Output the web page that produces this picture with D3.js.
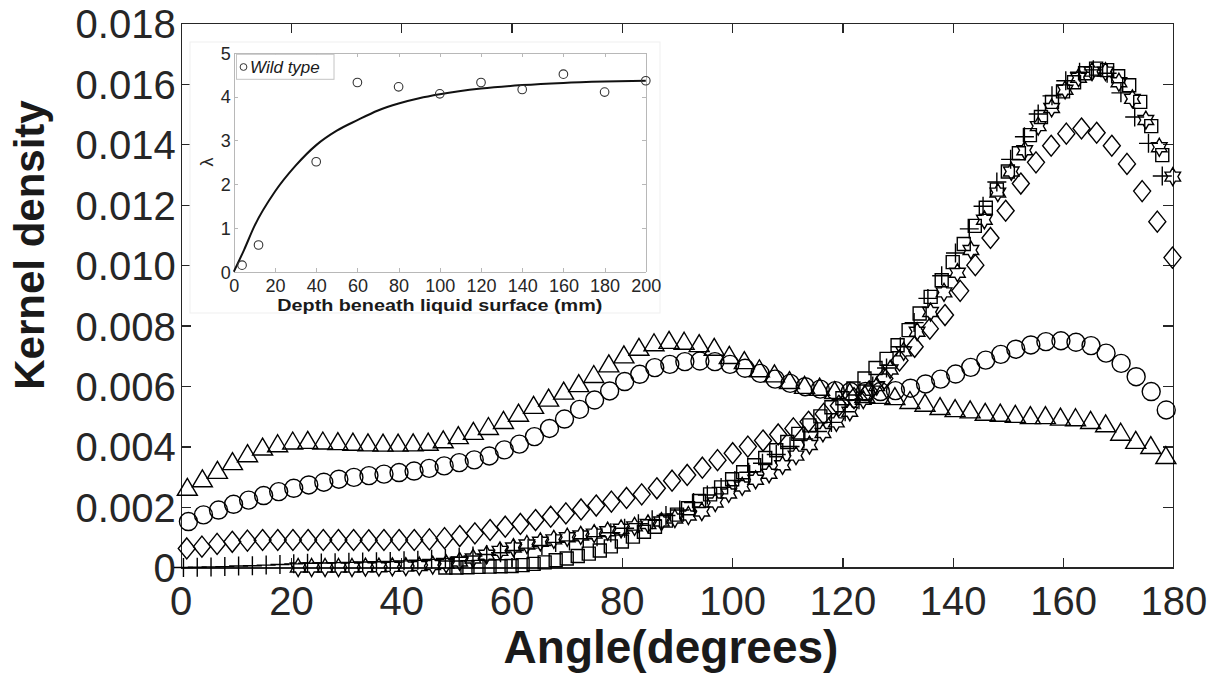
<!DOCTYPE html>
<meta charset="utf-8">
<script src="https://cdn.jsdelivr.net/npm/d3@7"></script>
<style type="text/css">
body {
  margin: 0;
  background: #fff;
}
text {
  font-family: "Liberation Sans", Arial, Helvetica, sans-serif;
}
.axis path,
.axis line {
  fill: none;
  stroke: #262626;
  stroke-width: 1.3;
  shape-rendering: crispEdges;
}
.inset .axis path,
.inset .axis line {
  stroke: #b8b8b8;
  stroke-width: 1;
}
.mark {
  fill: none;
  stroke: #000;
  stroke-width: 1.4;
}
</style>
<body>
<script>

// main chart: kernel density (values in units of 0.001) vs angle
// each series is sampled on its own even angle grid: start + i*step
var xTicks = [0, 20, 40, 60, 80, 100, 120, 140, 160, 180];
var yTicks = [0, 2, 4, 6, 8, 10, 12, 14, 16, 18];

var circleStart = 1.4, circleStep = 2.728;
var circleVals = [1.52,1.74,1.90,2.09,2.23,2.38,2.51,2.62,2.73,2.82,
  2.92,2.98,3.04,3.09,3.14,3.19,3.28,3.36,3.47,3.56,
  3.69,3.89,4.08,4.33,4.60,4.91,5.23,5.54,5.84,6.15,
  6.39,6.61,6.72,6.81,6.83,6.81,6.72,6.59,6.42,6.23,
  6.09,5.98,5.90,5.85,5.82,5.82,5.82,5.85,5.93,6.07,
  6.23,6.40,6.62,6.86,7.05,7.22,7.36,7.47,7.50,7.45,
  7.34,7.09,6.75,6.31,5.82,5.21];

var triangleStart = 1.2, triangleStep = 2.73;
var triangleVals = [2.67,2.95,3.23,3.52,3.78,4.00,4.11,4.20,4.22,4.20,
  4.18,4.16,4.14,4.13,4.13,4.14,4.16,4.24,4.38,4.52,
  4.68,4.88,5.12,5.38,5.62,5.85,6.10,6.40,6.75,7.05,
  7.30,7.45,7.53,7.50,7.42,7.30,7.03,6.86,6.59,6.42,
  6.20,6.04,5.98,5.87,5.82,5.74,5.71,5.67,5.54,5.45,
  5.34,5.27,5.23,5.15,5.12,5.08,5.04,5.04,4.99,4.97,
  4.88,4.77,4.49,4.22,4.05,3.72];

var diamondStart = 1.1, diamondStep = 2.75;
var diamondVals = [0.63,0.69,0.78,0.85,0.89,0.91,0.91,0.91,0.91,0.91,
  0.91,0.91,0.90,0.91,0.91,0.91,0.93,0.97,1.04,1.13,
  1.24,1.35,1.44,1.57,1.68,1.79,1.92,2.05,2.18,2.30,
  2.42,2.62,2.87,3.06,3.30,3.55,3.78,4.00,4.20,4.40,
  4.60,4.82,5.08,5.35,5.60,5.83,6.25,6.85,7.30,7.90,
  8.35,9.15,10.0,10.9,11.8,12.7,13.4,13.95,14.35,14.52,
  14.38,13.95,13.35,12.45,11.44,10.25];

var plusStart = 0.5, plusStep = 2.5;
var plusVals = [0.00,0.01,0.02,0.03,0.05,0.06,0.08,0.10,0.12,0.14,
  0.15,0.16,0.17,0.18,0.19,0.20,0.22,0.24,0.27,0.30,
  0.34,0.38,0.43,0.49,0.56,0.64,0.73,0.83,0.88,0.95,
  1.02,1.15,1.30,1.45,1.58,1.72,1.90,2.15,2.40,2.65,
  2.88,3.15,3.45,3.74,4.00,4.25,4.50,4.80,5.15,5.55,
  6.00,6.60,7.30,8.10,8.90,9.65,10.40,11.20,11.95,12.75,
  13.50,14.25,15.00,15.60,16.10,16.38,16.46,16.35,15.70,14.90,
  14.03,12.95];

var squareStart = 48, squareStep = 2.0;
var squareVals = [0.00,0.00,0.01,0.02,0.03,0.04,0.05,0.08,0.12,0.17,
  0.24,0.30,0.38,0.46,0.56,0.70,0.86,1.02,1.18,1.35,
  1.55,1.75,1.96,2.20,2.42,2.65,2.92,3.15,3.38,3.62,
  3.88,4.15,4.42,4.70,5.00,5.30,5.60,5.92,6.25,6.60,
  6.90,7.35,7.85,8.40,8.95,9.50,10.10,10.70,11.30,11.90,
  12.50,13.10,13.70,14.30,14.90,15.40,15.75,16.05,16.35,16.50,
  16.45,16.25,15.95,15.40,14.60,13.64];

var starStart = 21.3, starStep = 2.44;
var starVals = [0.00,0.00,0.00,0.00,0.00,0.01,0.01,0.02,0.03,0.05,
  0.08,0.12,0.20,0.30,0.42,0.55,0.66,0.76,0.85,0.93,
  1.00,1.06,1.12,1.20,1.28,1.36,1.44,1.52,1.62,1.72,
  1.85,2.15,2.45,2.68,2.90,3.10,3.38,3.70,4.05,4.45,
  4.80,5.15,5.55,6.00,6.55,7.15,7.80,8.45,9.10,9.75,
  10.50,11.50,12.40,13.10,13.80,14.60,15.20,15.80,16.20,16.40,
  16.40,16.05,15.50,14.80,13.90,12.93];

// inset: lambda vs depth
var insetXTicks = [0, 20, 40, 60, 80, 100, 120, 140, 160, 180, 200];
var insetYTicks = [0, 1, 2, 3, 4, 5];
var depthPts = [4, 12, 40, 60, 80, 100, 120, 140, 160, 180, 200];
var lambdaPts = [0.15, 0.61, 2.51, 4.32, 4.22, 4.06, 4.32, 4.16, 4.51, 4.10, 4.36];
var fitDepth = [0, 5, 10, 20, 30, 40, 50, 60, 70, 80, 90, 100, 120, 140, 160, 180, 200];
var fitLambda = [0, 0.50, 1.04, 1.83, 2.42, 2.89, 3.22, 3.46, 3.68, 3.84, 3.96, 4.05, 4.18, 4.26, 4.31, 4.34, 4.36];

var margin = {top: 23.3, right: 42.7, bottom: 112.5, left: 180.7}
  , width = 1216 - margin.left - margin.right
  , height = 680 - margin.top - margin.bottom;

var svg = d3.select("body").append("svg")
    .attr("width", 1216)
    .attr("height", 680);

var g = svg.append("g")
    .attr("transform", "translate(" + margin.left + "," + margin.top + ")");

var x = d3.scaleLinear().domain([0, 180]).range([0, width]);
var y = d3.scaleLinear().domain([0, 18]).range([height, 0]);

// axes, MATLAB style box with inward ticks
var fmtY = function(d) { return d === 0 ? "0" : (d / 1000).toFixed(3); };

var xAxis = g.append("g").attr("class", "x axis")
    .attr("transform", "translate(0," + height + ")")
    .call(d3.axisBottom(x).tickValues(xTicks).tickSizeInner(-10).tickSizeOuter(0));
xAxis.selectAll("text")
    .attr("y", 47.5).attr("dy", null)
    .style("font-size", "40px").style("fill", "#262626");

g.append("g").attr("class", "axis")
    .call(d3.axisTop(x).tickValues(xTicks).tickSizeInner(-10).tickSizeOuter(0).tickFormat(""));

var yAxis = g.append("g").attr("class", "y axis")
    .call(d3.axisLeft(y).tickValues(yTicks).tickSizeInner(-10).tickSizeOuter(0).tickPadding(5).tickFormat(fmtY));
yAxis.selectAll("text")
    .attr("dy", "0.36em")
    .style("font-size", "40px").style("fill", "#262626");

g.append("g").attr("class", "axis")
    .attr("transform", "translate(" + width + ",0)")
    .call(d3.axisRight(y).tickValues(yTicks).tickSizeInner(-10).tickSizeOuter(0).tickFormat(""));

// axis titles
svg.append("text")
    .attr("x", margin.left + width / 2 - 6)
    .attr("y", 663)
    .style("text-anchor", "middle")
    .style("font-weight", "bold")
    .style("font-size", "46px")
    .style("fill", "#1a1a1a")
    .text("Angle(degrees)");

svg.append("text")
    .attr("transform", "translate(44,245) rotate(-90)")
    .style("text-anchor", "middle")
    .style("font-weight", "bold")
    .style("font-size", "42px")
    .style("fill", "#1a1a1a")
    .text("Kernel density");

// marker shapes
function hexagram(R) {
  var r = R / Math.sqrt(3), p = [];
  for (var k = 0; k < 12; k++) {
    var a = (-90 + k * 30) * Math.PI / 180, rr = k % 2 ? r : R;
    p.push([rr * Math.cos(a), rr * Math.sin(a)]);
  }
  return "M" + p.map(function(q) { return q[0].toFixed(2) + "," + q[1].toFixed(2); }).join("L") + "Z";
}
var shapes = {
  circle: "M9,0A9,9 0 1,1 -9,0A9,9 0 1,1 9,0Z",
  triangle: "M0,-8.5L10,8.5L-10,8.5Z",
  diamond: "M0,-10.5L8.5,0L0,10.5L-8.5,0Z",
  plus: "M-9.5,0H9.5M0,-9.5V9.5",
  square: "M-6.5,-6.5H6.5V6.5H-6.5Z",
  star: hexagram(9)
};

var series = [
  {shape: "circle", start: circleStart, step: circleStep, vals: circleVals},
  {shape: "triangle", start: triangleStart, step: triangleStep, vals: triangleVals},
  {shape: "diamond", start: diamondStart, step: diamondStep, vals: diamondVals},
  {shape: "plus", start: plusStart, step: plusStep, vals: plusVals},
  {shape: "square", start: squareStart, step: squareStep, vals: squareVals},
  {shape: "star", start: starStart, step: starStep, vals: starVals}
];

series.forEach(function(s) {
  var pts = s.vals.map(function(v, i) { return {a: s.start + i * s.step, v: v}; });
  g.selectAll(".m-" + s.shape).data(pts).enter().append("path")
      .attr("class", "mark m-" + s.shape)
      .attr("transform", function(d) { return "translate(" + x(d.a) + "," + y(d.v) + ")"; })
      .attr("d", shapes[s.shape]);
});

// inset panel
var inset = svg.append("g").attr("class", "inset");
inset.append("rect")
    .attr("x", 190).attr("y", 42).attr("width", 470).attr("height", 271)
    .style("fill", "#fff").style("stroke", "#efefef");

var ix = d3.scaleLinear().domain([0, 200]).range([233.8, 645.8]);
var iy = d3.scaleLinear().domain([0, 5]).range([271.7, 52.7]);

var ixAxis = inset.append("g").attr("class", "axis")
    .attr("transform", "translate(0," + iy(0) + ")")
    .call(d3.axisBottom(ix).tickValues(insetXTicks).tickSizeInner(-4).tickSizeOuter(0));
ixAxis.selectAll("text")
    .attr("y", 20).attr("dy", null)
    .style("font-size", "18px").style("fill", "#262626");
inset.append("g").attr("class", "axis")
    .attr("transform", "translate(0," + iy(5) + ")")
    .call(d3.axisTop(ix).tickValues(insetXTicks).tickSizeInner(-4).tickSizeOuter(0).tickFormat(""));

var iyAxis = inset.append("g").attr("class", "axis")
    .attr("transform", "translate(" + ix(0) + ",0)")
    .call(d3.axisLeft(iy).tickValues(insetYTicks).tickSizeInner(-4).tickSizeOuter(0).tickPadding(3).tickFormat(d3.format("d")));
iyAxis.selectAll("text")
    .attr("dy", "0.36em")
    .style("font-size", "18px").style("fill", "#262626");
inset.append("g").attr("class", "axis")
    .attr("transform", "translate(" + ix(200) + ",0)")
    .call(d3.axisRight(iy).tickValues(insetYTicks).tickSizeInner(-4).tickSizeOuter(0).tickFormat(""));

inset.append("text")
    .attr("x", (ix(0) + ix(200)) / 2)
    .attr("y", 310.5)
    .attr("textLength", 325)
    .attr("lengthAdjust", "spacingAndGlyphs")
    .style("text-anchor", "middle")
    .style("font-weight", "bold")
    .style("font-size", "16px")
    .style("fill", "#1a1a1a")
    .text("Depth beneath liquid surface (mm)");

inset.append("text")
    .attr("transform", "translate(213,162) rotate(-90)")
    .style("text-anchor", "middle")
    .style("font-size", "18px")
    .style("fill", "#262626")
    .text("λ");

var fitLine = d3.line()
    .x(function(d) { return ix(d[0]); })
    .y(function(d) { return iy(d[1]); })
    .curve(d3.curveMonotoneX);
inset.append("path")
    .datum(fitDepth.map(function(d, i) { return [d, fitLambda[i]]; }))
    .attr("d", fitLine)
    .style("fill", "none").style("stroke", "#111").style("stroke-width", 2);

inset.selectAll(".pt").data(depthPts).enter().append("circle")
    .attr("class", "pt")
    .attr("cx", function(d) { return ix(d); })
    .attr("cy", function(d, i) { return iy(lambdaPts[i]); })
    .attr("r", 4.3)
    .style("fill", "none").style("stroke", "#333").style("stroke-width", 1.1);

// legend
var legend = inset.append("g");
legend.append("rect")
    .attr("x", 236.5).attr("y", 54.3).attr("width", 97.5).attr("height", 25)
    .style("fill", "#fff").style("stroke", "#c4c4c4");
legend.append("circle")
    .attr("cx", 243.5).attr("cy", 67).attr("r", 3.4)
    .style("fill", "none").style("stroke", "#333");
legend.append("text")
    .attr("x", 250).attr("y", 73)
    .style("font-style", "italic")
    .style("font-size", "17px")
    .style("fill", "#1a1a1a")
    .text("Wild type");

</script>
</body>
</html>
